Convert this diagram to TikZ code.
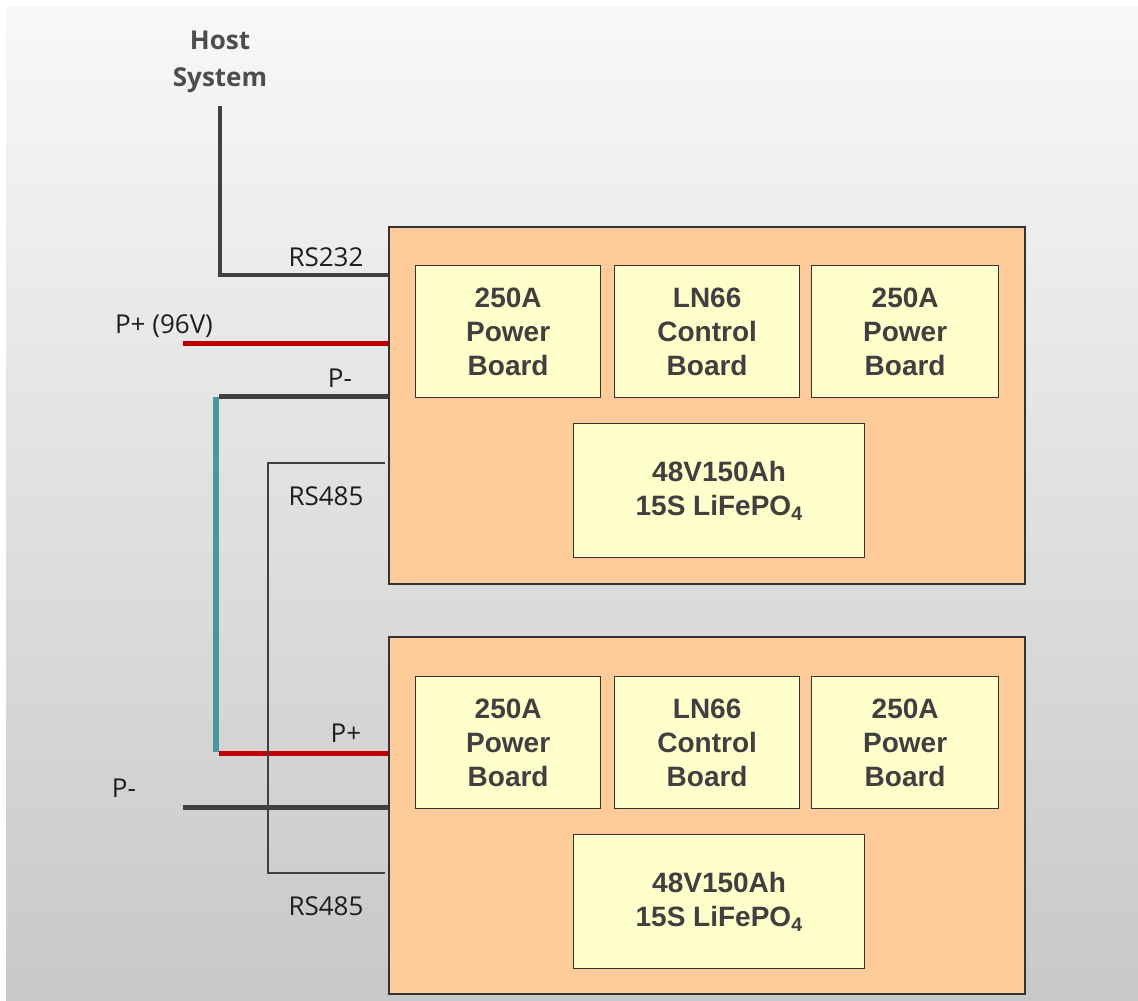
\documentclass[tikz,border=0pt]{standalone}
\usepackage{fontspec}
\setmainfont{Liberation Sans}
\newfontfamily\lblfontfam{Open Sans}
\definecolor{peach}{HTML}{FFCC99}
\definecolor{paleyel}{HTML}{FFFFCC}
\definecolor{bordc}{HTML}{333333}
\definecolor{txtgray}{HTML}{404040}
\definecolor{lblc}{HTML}{1E1E1E}
\definecolor{hostc}{HTML}{4D4D4D}
\definecolor{wirec}{HTML}{404040}
\definecolor{redw}{HTML}{C00000}
\definecolor{tealw}{HTML}{4A979B}
\definecolor{bgtop}{HTML}{F8F8F8}
\definecolor{bgbot}{HTML}{C8C8C8}
\begin{document}
\begin{tikzpicture}[x=1pt,y=-1pt,
  outerbox/.style={draw=bordc, line width=1.6pt, fill=peach, minimum width=636pt, minimum height=357pt, anchor=north west, inner sep=0pt},
  innerbox/.style={draw=bordc, line width=1.3pt, fill=paleyel, anchor=north west, inner sep=0pt, align=center, text=txtgray, font=\fontsize{28}{34}\selectfont\bfseries},
  lbl/.style={font=\lblfontfam\fontsize{26}{30}\selectfont, text=lblc, inner sep=0pt, anchor=base},
  hostlbl/.style={font=\lblfontfam\fontsize{26}{37}\selectfont\bfseries, text=hostc, inner sep=0pt, align=center},
  powerwire/.style={line width=5pt, draw=wirec},
  redwire/.style={line width=5pt, draw=redw},
  tealwire/.style={line width=6pt, draw=tealw},
  datawire/.style={line width=4pt, draw=wirec},
  thinwire/.style={line width=2.5pt, draw=wirec}]
% background
\useasboundingbox (0,0) rectangle (1138,1001);
\fill[white] (0,0) rectangle (1138,1001);
\shade[top color=bgtop, bottom color=bgbot] (6,7) rectangle (1138,1001);

% boxes
\node[outerbox] (box1) at (388,226) {};
\node[innerbox, minimum width=185pt, minimum height=132pt] (pa1) at (415,265) {250A\\Power\\Board};
\node[innerbox, minimum width=185pt, minimum height=132pt] (cb1) at (614,265) {LN66\\Control\\Board};
\node[innerbox, minimum width=187pt, minimum height=132pt] (pb1) at (811,265) {250A\\Power\\Board};
\node[innerbox, minimum width=291pt, minimum height=134pt] (bat1) at (573,423) {48V150Ah\\15S LiFePO\textsubscript{4}};

\node[outerbox] (box2) at (388,636) {};
\node[innerbox, minimum width=185pt, minimum height=132pt] (pa2) at (415,676) {250A\\Power\\Board};
\node[innerbox, minimum width=185pt, minimum height=132pt] (cb2) at (614,676) {LN66\\Control\\Board};
\node[innerbox, minimum width=187pt, minimum height=132pt] (pb2) at (811,676) {250A\\Power\\Board};
\node[innerbox, minimum width=291pt, minimum height=134pt] (bat2) at (573,834) {48V150Ah\\15S LiFePO\textsubscript{4}};

% host
\node[hostlbl] (host) at (220,62) {Host\\System};
\coordinate (hostend) at (220,106);
\coordinate (rs232pt) at (220,275);
\draw[datawire, line cap=butt] (hostend) -- (rs232pt) -- (box1.west |- rs232pt);

% P+ (96V)
\coordinate (pplusL) at (183,343);
\draw[redwire] (pplusL) -- (box1.west |- pplusL);

% series link
\coordinate (tealtop) at (216,397);
\coordinate (tealbot) at (216,752);
\draw[tealwire] (tealtop) -- (tealbot);
\coordinate (pminTop) at (219,396);
\draw[powerwire] (pminTop) -- (box1.west |- pminTop);
\coordinate (pplusBot) at (219,753);
\draw[redwire] (pplusBot) -- (box2.west |- pplusBot);

% P- out
\coordinate (pminL) at (183,807);
\draw[powerwire] (pminL) -- (box2.west |- pminL);

% RS485
\coordinate (rsA) at (385,463);
\coordinate (rsB) at (385,873);
\coordinate (rsx) at (268,0);
\draw[thinwire] (rsA) -- (rsA -| rsx) -- (rsB -| rsx) -- (rsB);

% labels
\node[lbl] (lrs232) at (326,266) {RS232};
\node[lbl] (lpp96) at (164,333) {P+ (96V)};
\node[lbl] (lpm1) at (340,387) {P-};
\node[lbl] (lrs1) at (326,505) {RS485};
\node[lbl] (lpp2) at (346,742) {P+};
\node[lbl] (lpm2) at (124,797) {P-};
\node[lbl] (lrs2) at (326,915) {RS485};
\end{tikzpicture}
\end{document}
